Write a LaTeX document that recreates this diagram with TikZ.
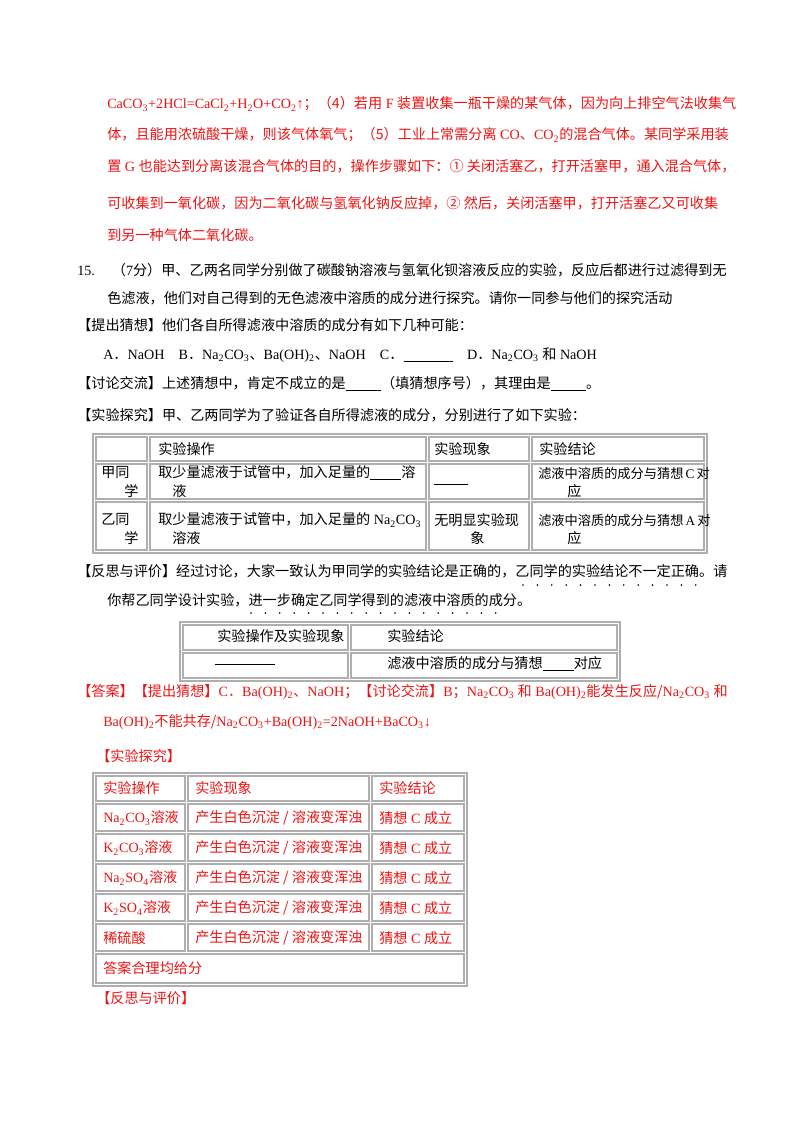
\documentclass[tikz,border=0pt]{standalone}
\usepackage{fontspec}
\setmainfont{Noto Sans CJK SC}
\newfontfamily\lt{Liberation Serif}
\newcommand{\su}[1]{\textsubscript{#1}}
\definecolor{rd}{RGB}{235,20,20}
\definecolor{bd}{RGB}{175,175,175}
\begin{document}
\begin{tikzpicture}[x=0.75pt,y=-0.75pt,
  t/.style={anchor=west,inner sep=0pt,font=\fontsize{10.6pt}{12.5pt}\selectfont},
  ts/.style={anchor=west,inner sep=0pt,font=\fontsize{9.9pt}{12pt}\selectfont},
  r/.style={t,text=rd},
  g/.style={draw=bd,line width=1.2pt},
  cell/.style={draw=bd,line width=0.8pt}]
\useasboundingbox (0,0) rectangle (800,1132);
\fill[white] (0,0) rectangle (800,1132);
% red top paragraph
\node[r] (l1) at (107,104) {{\lt CaCO\su{3}+2HCl=CaCl\su{2}+H\su{2}O+CO\su{2}↑}；（4）若用{\lt\ F }装置收集一瓶干燥的某气体，因为向上排空气法收集气};
\node[r] (l2) at (107,135) {体，且能用浓硫酸干燥，则该气体氧气；（5）工业上常需分离{\lt\ CO}、{\lt CO\su{2}}的混合气体。某同学采用装};
\node[r] (l3) at (107,166) {置{\lt\ G }也能达到分离该混合气体的目的，操作步骤如下：① 关闭活塞乙，打开活塞甲，通入混合气体，};
\node[r] (l4) at (107,203) {可收集到一氧化碳，因为二氧化碳与氢氧化钠反应掉，② 然后，关闭活塞甲，打开活塞乙又可收集};
\node[r] (l5) at (107,235) {到另一种气体二氧化碳。};
% question
\node[t] (q1) at (77,270) {{\lt 15.}\hspace{1.2em}（{\lt 7}分）甲、乙两名同学分别做了碳酸钠溶液与氢氧化钡溶液反应的实验，反应后都进行过滤得到无};
\node[t] (q2) at (107,298) {色滤液，他们对自己得到的无色滤液中溶质的成分进行探究。请你一同参与他们的探究活动};
\node[t] (q3) at (77,325) {【提出猜想】他们各自所得滤液中溶质的成分有如下几种可能：};
\node[t] (q4) at (103,355) {{\lt A}．{\lt NaOH\quad B}．{\lt Na\su{2}CO\su{3}}、{\lt Ba(OH)\su{2}}、{\lt NaOH\quad C}．{\lt\underline{\hspace{3.5em}}\quad D}．{\lt Na\su{2}CO\su{3} }和{\lt\ NaOH}};
\node[t] (q5) at (77,384) {【讨论交流】上述猜想中，肯定不成立的是\underline{\hspace{2.5em}}（填猜想序号），其理由是\underline{\hspace{2.5em}}。};
\node[t] (q6) at (77,415) {【实验探究】甲、乙两同学为了验证各自所得滤液的成分，分别进行了如下实验：};
% table 1
\draw[g] (93,434) rectangle (707,553);
\foreach \ya/\yb in {437/461,464/499,502/550}{
  \draw[cell] (96,\ya) rectangle (147,\yb);
  \draw[cell] (150,\ya) rectangle (426,\yb);
  \draw[cell] (429,\ya) rectangle (529,\yb);
  \draw[cell] (532,\ya) rectangle (704,\yb);}
\node[t] (h1) at (158,449) {实验操作};
\node[t] (h2) at (434,449) {实验现象};
\node[t] (h3) at (539,449) {实验结论};
\node[t] (a1) at (101,473) {甲同};
\node[t] (a2) at (124,491) {学};
\node[t] (a3) at (158,473) {取少量滤液于试管中，加入足量的\underline{\hspace{2.2em}}溶};
\node[t] (a4) at (172,491) {液};
\node[t] (a5) at (434,484) {\underline{\hspace{2.4em}}};
\node[ts] (a6) at (538,473) {滤液中溶质的成分与猜想{\lt\,C\,}对};
\node[t] (a7) at (567,491) {应};
\node[t] (b1) at (101,520) {乙同};
\node[t] (b2) at (124,538) {学};
\node[t] (b3) at (158,520) {取少量滤液于试管中，加入足量的{\lt\ Na\su{2}CO\su{3}}};
\node[t] (b4) at (172,538) {溶液};
\node[t] (b5) at (434,520) {无明显实验现};
\node[t] (b6) at (470,538) {象};
\node[ts] (b7) at (538,520) {滤液中溶质的成分与猜想{\lt\,A\,}对};
\node[t] (b8) at (567,538) {应};
% reflection
\node[t] (f1) at (77,571) {【反思与评价】经过讨论，大家一致认为甲同学的实验结论是正确的，乙同学的实验结论不一定正确。请};
\node[t] (f2) at (107,600) {你帮乙同学设计实验，进一步确定乙同学得到的滤液中溶质的成分。};
\foreach \i in {0,...,12}{\fill (523+\i*14.4,585) circle (0.9);}
\foreach \i in {0,...,17}{\fill (251+\i*14.4,613) circle (0.9);}
% table 2
\draw[g] (180,622) rectangle (620,681);
\draw[cell] (183,625) rectangle (348,650);
\draw[cell] (351,625) rectangle (617,650);
\draw[cell] (183,653) rectangle (348,678);
\draw[cell] (351,653) rectangle (617,678);
\node[t] (c1) at (217,636) {实验操作及实验现象};
\node[t] (c2) at (387,636) {实验结论};
\node[t] (c3) at (215,664) {\underline{\hspace{4.2em}}};
\node[t] (c4) at (387,664) {滤液中溶质的成分与猜想\underline{\hspace{2.2em}}对应};
% answer
\node[r] (d1) at (77,692) {【答案】【提出猜想】{\lt C}．{\lt Ba(OH)\su{2}}、{\lt NaOH}；【讨论交流】{\lt B}；{\lt Na\su{2}CO\su{3} }和{\lt\ Ba(OH)\su{2}}能发生反应/{\lt Na\su{2}CO\su{3} }和};
\node[r] (d2) at (103,722) {{\lt Ba(OH)\su{2}}不能共存/{\lt Na\su{2}CO\su{3}+Ba(OH)\su{2}=2NaOH+BaCO\su{3}↓}};
\node[r] (d3) at (96,756) {【实验探究】};
% table 3
\draw[g] (93,773) rectangle (467,986);
\foreach \ya/\yb in {776/801,804/831,834/861,864/891,894/921,924/951}{
  \draw[cell] (96,\ya) rectangle (185,\yb);
  \draw[cell] (188,\ya) rectangle (369,\yb);
  \draw[cell] (372,\ya) rectangle (464,\yb);}
\draw[cell] (96,954) rectangle (464,983);
\node[r] (e1) at (103,788) {实验操作};
\node[r] (e2) at (195,788) {实验现象};
\node[r] (e3) at (379,788) {实验结论};
\foreach \y/\nm/\lab in {818/r1/{{\lt Na\su{2}CO\su{3}}溶液},848/r2/{{\lt K\su{2}CO\su{3}}溶液},878/r3/{{\lt Na\su{2}SO\su{4}}溶液},908/r4/{{\lt K\su{2}SO\su{4}}溶液},938/r5/{稀硫酸}}{
  \node[r] (\nm a) at (103,\y) {\lab};
  \node[r] (\nm b) at (195,\y) {产生白色沉淀 / 溶液变浑浊};
  \node[r] (\nm c) at (379,\y) {猜想{\lt\ C }成立};}
\node[r] (e4) at (103,968) {答案合理均给分};
\node[r] (e5) at (96,998) {【反思与评价】};
\end{tikzpicture}
\end{document}
